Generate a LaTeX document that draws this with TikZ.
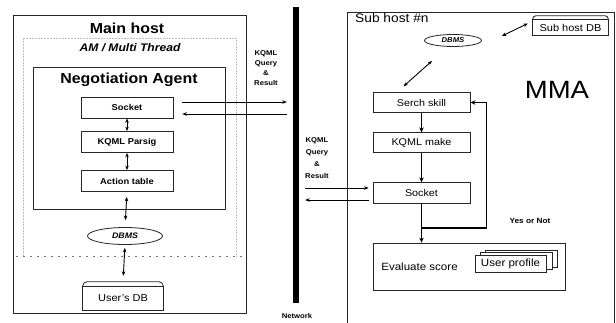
\documentclass[tikz,border=0pt]{standalone}
\usepackage{fontspec}
\setmainfont{Liberation Sans}[FakeStretch=1.1]
\usetikzlibrary{arrows.meta,shapes.geometric,calc}

\tikzset{
  frame/.style={draw=black!85, line width=0.8pt, rectangle, inner sep=0pt},
  lbox/.style={frame, minimum width=92, minimum height=21, font=\bfseries\fontsize{8.5}{10}\selectfont},
  rbox/.style={frame, minimum width=97, minimum height=19.5, font=\fontsize{9.8}{11}\selectfont},
  dbell/.style={draw=black!85, line width=0.8pt, ellipse, inner sep=0pt, font=\bfseries\itshape},
  plain/.style={inner sep=0pt},
  tip/.style={-{Stealth[length=4.5pt,width=3.6pt]}, line width=0.7pt},
  dtip/.style={{Stealth[length=4.5pt,width=3.6pt]}-{Stealth[length=4.5pt,width=3.6pt]}, line width=0.9pt},
  thk/.style={line width=1.5pt, -{Stealth[length=5pt,width=4.5pt]}},
  lbl/.style={inner sep=0pt, align=center, font=\bfseries\fontsize{7}{10}\selectfont},
}

\begin{document}
\begin{tikzpicture}[x=1pt,y=-1pt]
  \useasboundingbox (0,0) rectangle (616,322);
  \clip (0,0) rectangle (616,322);
  \fill[white] (0,0) rectangle (616,322);

  % ---------------- main host ----------------
  \node[frame, minimum width=233, minimum height=298] (main) at (129.5,164) {};
  \node[plain, font=\bfseries\fontsize{14.5}{17}\selectfont] (mainT) at (127,28) {Main host};
  \node[plain, font=\bfseries\itshape\fontsize{11}{13}\selectfont] (amT) at (130,48) {AM / Multi Thread};
  % faint dotted thread area
  \draw[black!25, densely dotted, line width=0.5pt] (236,256) -- (236,38) -- (23,38) -- (23,256);
  \draw[black!55, dash pattern=on 2pt off 5pt, line width=0.6pt] (16,256) -- (244,256);

  \node[frame, minimum width=192, minimum height=142] (neg) at (129,138) {};
  \node[plain, font=\bfseries\fontsize{14.5}{17}\selectfont] (negT) at (129,80) {Negotiation Agent};

  \node[lbox] (sockL) at (127,107.5) {Socket};
  \node[lbox] (parse) at (127,142) {KQML Parsig};
  \node[lbox] (act)   at (127,181) {Action table};

  \node[dbell, minimum width=75, minimum height=17, font=\bfseries\itshape\fontsize{8}{9}\selectfont] (dbL) at (125,236) {DBMS};

  % user database drawn as a can
  \node[plain, minimum width=80, minimum height=23, font=\fontsize{10}{12}\selectfont] (udb) at (123,298.5) {User's DB};
  \draw[black!85, line width=0.8pt] (udb.south west) rectangle (udb.north east);
  \draw[black!85, line width=0.8pt, rounded corners=4] (udb.north west) -- ++(0,-5) -- ($(udb.north east)+(0,-5)$) -- (udb.north east);

  \draw[dtip] (sockL.south) -- (parse.north);
  \draw[dtip] (parse.south) -- (act.north);
  \draw[dtip, shorten <=5pt, shorten >=7pt] (act.south) -- (dbL.north);
  \draw[dtip, shorten <=3pt, shorten >=6pt] (dbL.south) -- ($(udb.north)+(0,-5)$);

  % ---------------- network ----------------
  \node[fill=black, inner sep=0pt, minimum width=6, minimum height=296] (net) at (296,155) {};
  \node[lbl, font=\bfseries\fontsize{7}{8}\selectfont] (netT) at (297,315.5) {Network};

  \node[lbl] (qL) at (266,68.5) {KQML\\Query\\\&\\Result};
  \node[lbl, font=\bfseries\fontsize{7}{11.8}\selectfont] (qR) at (317,158) {KQML\\Query\\\&\\Result};

  \draw[tip] ($(sockL.east)+(9,-5.5)$) -- ($(net.west |- sockL.east)+(-6,-5.5)$);
  \draw[tip] ($(net.west |- sockL.east)+(-6,6.5)$) -- ($(sockL.east)+(9,6.5)$);

  % ---------------- sub host ----------------
  \draw[black!85, line width=0.8pt] (347,330) -- (347,12) -- (614,12) -- (614,330);
  \node[plain, anchor=west, font=\fontsize{12.5}{14}\selectfont] (subT) at (355,18) {Sub host \#n};
  \node[plain, font=\fontsize{25}{28}\selectfont] (mma) at (557,90) {MMA};

  \node[dbell, minimum width=57, minimum height=12, font=\bfseries\itshape\fontsize{7}{8}\selectfont] (dbR) at (453,40.5) {DBMS};

  \node[plain, minimum width=75, minimum height=15, font=\fontsize{10}{12}\selectfont] (sdb) at (570.5,27.5) {Sub host DB};
  \draw[black!85, line width=0.8pt] (sdb.south west) rectangle (sdb.north east);
  \draw[black!85, line width=0.8pt, rounded corners=3] (sdb.north west) -- ++(0,-4) -- ($(sdb.north east)+(0,-4)$) -- (sdb.north east);

  \node[rbox] (sk)    at (421.5,102.5) {Serch skill};
  \node[rbox] (mk)    at (421.5,142.5) {KQML make};
  \node[rbox, minimum height=20.5] (sockR) at (421.5,193) {Socket};

  \node[frame, minimum width=192, minimum height=47] (ev) at (469,266.5) {};
  \node[plain, font=\fontsize{10.5}{12}\selectfont] (evT) at (419.5,267) {Evaluate score};

  % stacked profile sheets
  \draw[black!85, line width=0.7pt, fill=white] (485,250) rectangle (557,267);
  \draw[black!85, line width=0.7pt, fill=white] (480,252.5) rectangle (552,269.5);
  \node[frame, fill=white, minimum width=71, minimum height=17, font=\fontsize{10.5}{12}\selectfont] (up) at (510.5,263.5) {User profile};

  \node[lbl, font=\bfseries\fontsize{7.5}{9}\selectfont] (yn) at (530,221) {Yes or Not};

  \draw[dtip] ($(sk.north)+(-18,-6)$) -- ($(dbR.south)+(-21,14)$);
  \draw[dtip] ($(dbR.east)+(20,-4.5)$) -- ($(sdb.west)+(-5,-4)$);

  \draw[thk] (sk.south) -- (mk.north);
  \draw[thk] (mk.south) -- (sockR.north);
  \draw[thk] (sockR.south) -- (sockR.south |- ev.north);
  \coordinate (jn) at (421.5,228);
  \draw[thk] (jn) -| ($(sk.east)+(16,0)$) -- (sk.east);

  \draw[tip] ($(net.east |- sockR.west)+(6,-5)$) -- ($(sockR.west)+(-4,-5)$);
  \draw[tip] ($(sockR.west)+(-4,7)$) -- ($(net.east |- sockR.west)+(6,7)$);
\end{tikzpicture}
\end{document}
